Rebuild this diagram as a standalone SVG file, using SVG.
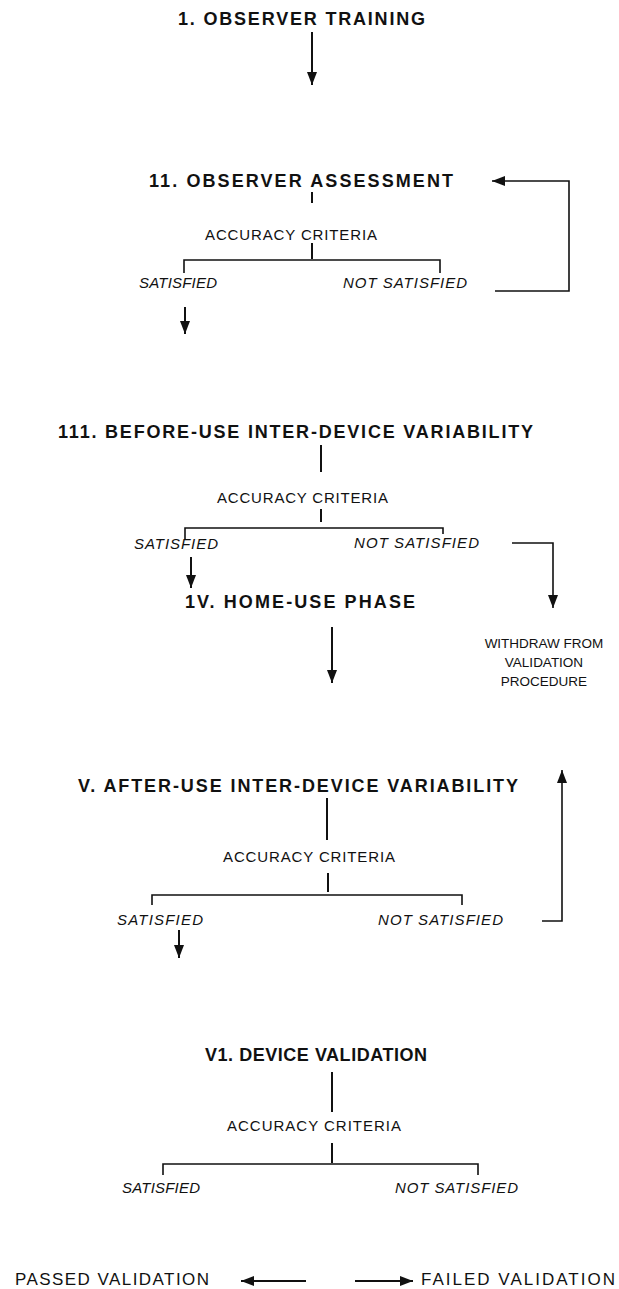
<svg xmlns="http://www.w3.org/2000/svg" width="619" height="1289" viewBox="0 0 619 1289">
<style>
.t{font-family:"Liberation Sans",Arial,sans-serif;font-weight:bold;font-size:18px;fill:#111}
.c{font-family:"Liberation Sans",Arial,sans-serif;font-size:15px;fill:#111}
.i{font-family:"Liberation Sans",Arial,sans-serif;font-style:italic;font-size:15px;fill:#111}
.l{font-family:"Liberation Sans",Arial,sans-serif;font-size:17px;fill:#111}
.w{font-family:"Liberation Sans",Arial,sans-serif;font-size:13.5px;fill:#111;text-anchor:middle}
.ln{fill:none;stroke:#111;stroke-width:2}
.th{fill:none;stroke:#111;stroke-width:1.6}
</style>
<defs>
<marker id="ah" markerUnits="userSpaceOnUse" markerWidth="14" markerHeight="11" refX="13" refY="5" orient="auto">
<path d="M0,0 L13,5 L0,10 z" fill="#111"/>
</marker>
</defs>
<rect width="619" height="1289" fill="#fff"/>
<g id="n1"><text class="t" x="178" y="25" textLength="247" lengthAdjust="spacing">1. OBSERVER TRAINING</text></g>
<g id="n2">
<text class="t" x="149" y="187" textLength="304" lengthAdjust="spacing">11. OBSERVER ASSESSMENT</text>
<text class="c" x="205" y="240" textLength="172" lengthAdjust="spacing">ACCURACY CRITERIA</text>
<text class="i" x="139" y="288" textLength="78" lengthAdjust="spacing">SATISFIED</text>
<text class="i" x="343" y="288" textLength="124" lengthAdjust="spacing">NOT SATISFIED</text>
</g>
<g id="n3">
<text class="t" x="58" y="438" textLength="475" lengthAdjust="spacing">111. BEFORE-USE INTER-DEVICE VARIABILITY</text>
<text class="c" x="217" y="503" textLength="171" lengthAdjust="spacing">ACCURACY CRITERIA</text>
<text class="i" x="134" y="549" textLength="84" lengthAdjust="spacing">SATISFIED</text>
<text class="i" x="354" y="548" textLength="125" lengthAdjust="spacing">NOT SATISFIED</text>
</g>
<g id="n4"><text class="t" x="185" y="608" textLength="230" lengthAdjust="spacing">1V. HOME-USE PHASE</text></g>
<g id="nw">
<text class="w" x="544" y="648">WITHDRAW FROM</text>
<text class="w" x="544" y="667">VALIDATION</text>
<text class="w" x="544" y="686">PROCEDURE</text>
</g>
<g id="n5">
<text class="t" x="78" y="792" textLength="440" lengthAdjust="spacing">V. AFTER-USE INTER-DEVICE VARIABILITY</text>
<text class="c" x="223" y="862" textLength="172" lengthAdjust="spacing">ACCURACY CRITERIA</text>
<text class="i" x="117" y="925" textLength="86" lengthAdjust="spacing">SATISFIED</text>
<text class="i" x="378" y="925" textLength="125" lengthAdjust="spacing">NOT SATISFIED</text>
</g>
<g id="n6">
<text class="t" x="205" y="1061" textLength="222" lengthAdjust="spacing">V1. DEVICE VALIDATION</text>
<text class="c" x="227" y="1131" textLength="174" lengthAdjust="spacing">ACCURACY CRITERIA</text>
<text class="i" x="122" y="1193" textLength="78" lengthAdjust="spacing">SATISFIED</text>
<text class="i" x="395" y="1193" textLength="123" lengthAdjust="spacing">NOT SATISFIED</text>
</g>
<g id="legend">
<text class="l" x="15" y="1285" textLength="194" lengthAdjust="spacing">PASSED VALIDATION</text>
<text class="l" x="421" y="1285" textLength="194" lengthAdjust="spacing">FAILED VALIDATION</text>
</g>
<g id="connectors">
<path class="ln" d="M312,32 V85" marker-end="url(#ah)"/>
<path class="ln" d="M312,192 V203"/>
<path class="ln" d="M312,243 V259"/>
<path class="th" d="M184,273 V260 H440 V273"/>
<path class="ln" d="M185,307 V334" marker-end="url(#ah)"/>
<path class="th" d="M495,291 H569 V181 H492" marker-end="url(#ah)"/>
<path class="ln" d="M321,445 V472"/>
<path class="ln" d="M321,509 V522"/>
<path class="th" d="M185,540 V528 H443 V534"/>
<path class="ln" d="M191,557 V588" marker-end="url(#ah)"/>
<path class="th" d="M512,543 H553 V608" marker-end="url(#ah)"/>
<path class="ln" d="M332,627 V683" marker-end="url(#ah)"/>
<path class="ln" d="M327,798 V840"/>
<path class="ln" d="M328,873 V892"/>
<path class="th" d="M152,905 V895 H462 V905"/>
<path class="ln" d="M179,930 V958" marker-end="url(#ah)"/>
<path class="th" d="M542,921 H562 V770" marker-end="url(#ah)"/>
<path class="ln" d="M332,1072 V1112"/>
<path class="ln" d="M332,1143 V1163"/>
<path class="th" d="M163,1175 V1164 H478 V1175"/>
<path class="ln" d="M306,1281 H241" marker-end="url(#ah)"/>
<path class="ln" d="M355,1281 H413" marker-end="url(#ah)"/>
</g>
</svg>
